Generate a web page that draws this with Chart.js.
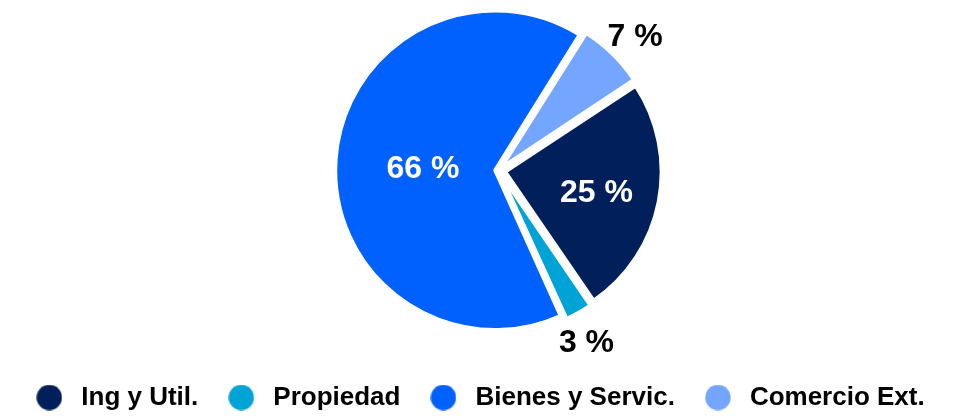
<!DOCTYPE html>
<html>
<head>
<meta charset="utf-8">
<script src="https://cdn.jsdelivr.net/npm/chart.js@4/dist/chart.umd.min.js"></script>
<style>
  html, body { margin: 0; padding: 0; background: #ffffff; }
  #wrap { width: 955px; height: 418px; position: relative; }
</style>
</head>
<body>
<div id="wrap"><canvas id="c"></canvas></div>
<script>
// ---- data ----
const categories = ['Ing y Util.', 'Propiedad', 'Bienes y Servic.', 'Comercio Ext.'];
const shares = [24.7, 2.8, 65.7, 6.8];
const sliceColors = ['#001F5B', '#00A3D6', '#0061FE', '#74A6FF'];

const FONT = '"Liberation Sans", Arial, Helvetica, sans-serif';

// desired visual explode distance in px (Chart.js arc offset is scaled internally)
const EXPLODE = 7;

// label placement per slice: radius factor (of outer radius) and angle tweak (deg), text colour
const labelPlacement = [
  { r: 0.60, da: 2.0, color: '#ffffff' },
  { r: 1.20, da: 2.5, color: '#000000' },
  { r: 0.44, da: -2.5, color: '#ffffff' },
  { r: 1.18, da: 1.3, color: '#000000' }
];

// Chart.js v4 arc translate = offset/4 * (1 + fix), fix = 1 - sin(min(PI, circumference))
function arcOffsetFor(value, total) {
  const circ = value / total * Math.PI * 2;
  const fix = 1 - Math.sin(Math.min(Math.PI, circ));
  return EXPLODE * 4 / (1 + fix);
}

function circleImage(color, d) {
  const cv = document.createElement('canvas');
  cv.width = d; cv.height = d;
  const c = cv.getContext('2d');
  c.fillStyle = color;
  c.beginPath();
  c.arc(d / 2, d / 2, d / 2 - 0.3, 0, Math.PI * 2);
  c.fill();
  return cv;
}

const totalShare = shares.reduce((a, b) => a + b, 0);
const sliceOffsets = shares.map(v => arcOffsetFor(v, totalShare));

const pieLabels = {
  id: 'pieLabels',
  afterDatasetsDraw(chart) {
    const meta = chart.getDatasetMeta(0);
    const data = chart.data.datasets[0].data;
    const total = data.reduce((a, b) => a + b, 0);
    const ctx = chart.ctx;
    ctx.save();
    ctx.font = 'bold 32px ' + FONT;
    ctx.textAlign = 'center';
    ctx.textBaseline = 'middle';
    meta.data.forEach((arc, i) => {
      const p = arc.getProps(['x', 'y', 'startAngle', 'endAngle', 'outerRadius'], true);
      const pl = labelPlacement[i];
      const mid = (p.startAngle + p.endAngle) / 2 + pl.da * Math.PI / 180;
      const dist = EXPLODE + pl.r * p.outerRadius;
      const x = p.x + Math.cos(mid) * dist;
      const y = p.y + Math.sin(mid) * dist;
      ctx.fillStyle = pl.color;
      ctx.fillText(Math.round(data[i] / total * 100) + ' %', x, y);
    });
    ctx.restore();
  }
};

new Chart(document.getElementById('c'), {
  type: 'pie',
  data: {
    labels: categories,
    datasets: [{
      data: shares,
      backgroundColor: sliceColors,
      borderColor: '#ffffff',
      borderWidth: 3.5,
      offset: sliceOffsets,
      radius: 156
    }]
  },
  options: {
    responsive: true,
    maintainAspectRatio: false,
    devicePixelRatio: 1,
    animation: false,
    rotation: 56.6,
    layout: { padding: { top: 0, bottom: -2.5, left: 0, right: 0 } },
    plugins: {
      tooltip: { enabled: false },
      title: {
        display: true,
        position: 'left',
        text: ' ',
        color: 'rgba(0,0,0,0)',
        font: { size: 10, lineHeight: 1.2 },
        padding: 15
      },
      subtitle: {
        display: true,
        position: 'bottom',
        weight: 500,
        text: ' ',
        color: 'rgba(0,0,0,0)',
        font: { size: 10, lineHeight: 1.2 },
        padding: { top: 7.5, bottom: 0 }
      },
      legend: {
        position: 'bottom',
        weight: 1000,
        labels: {
          usePointStyle: true,
          pointStyleWidth: 38,
          padding: 24,
          color: '#000000',
          font: { family: FONT, size: 26, weight: 'bold' },
          generateLabels(chart) {
            return chart.data.labels.map((t, i) => ({
              text: t,
              fillStyle: sliceColors[i],
              strokeStyle: 'rgba(0,0,0,0)',
              lineWidth: 0,
              pointStyle: circleImage(sliceColors[i], 26),
              hidden: false,
              index: i,
              datasetIndex: 0
            }));
          }
        }
      }
    }
  },
  plugins: [pieLabels]
});
</script>
</body>
</html>
